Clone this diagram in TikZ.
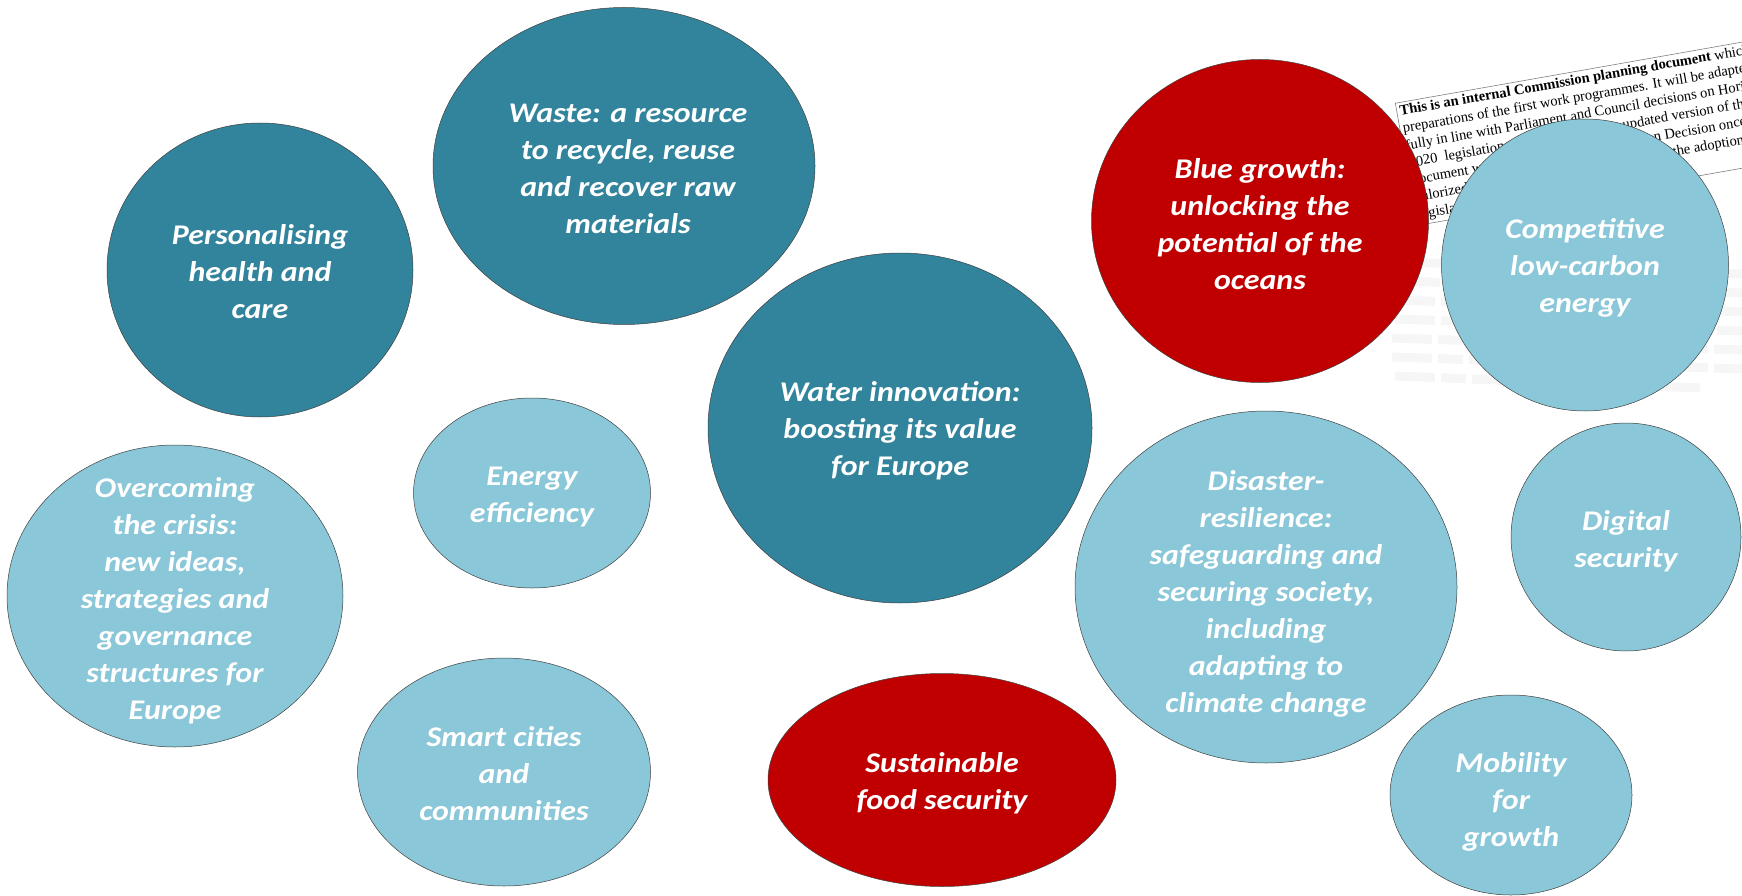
\documentclass[tikz,border=0pt]{standalone}
\usepackage{fontspec}
\setmainfont{Carlito}[FakeStretch=1.12]
\newfontfamily\docfont{Liberation Serif}
\usetikzlibrary{shapes.geometric}
\definecolor{teal}{HTML}{31849B}
\definecolor{lightblue}{HTML}{8AC7D8}
\definecolor{darkred}{HTML}{C00000}
\definecolor{rim}{HTML}{404040}
\tikzset{
  bubble/.style={ellipse, draw=rim, line width=0.5pt, inner sep=0pt},
  tealbub/.style={bubble, fill=teal},
  lightbub/.style={bubble, fill=lightblue},
  redbub/.style={bubble, fill=darkred},
  label/.style={align=center, text=white, inner sep=0pt,
    font=\fontsize{28.5}{37}\selectfont\bfseries\itshape},
  docbox/.style={draw=gray, line width=0.6pt, fill=white, align=left,
    inner sep=3pt, font=\docfont\fontsize{14.5}{17.5}\selectfont},
  blur/.style={line width=9pt, draw=black, opacity=0.035}
}
\begin{document}
\begin{tikzpicture}[x=1pt,y=-1pt]
\useasboundingbox (0,0) rectangle (1742,896);
% background document fragment
\node[docbox, rotate=10, anchor=north west] (doc) at (1395,103) {%
\textbf{This is an internal Commission planning document} which has been used\\
preparations of the first work programmes. It will be adapted to be\\
fully in line with Parliament and Council decisions on Horizon 2020\\
2020\ \ legislation. Please note that an updated version of this\\
document will be adopted as a Commission Decision once\\
valorized by the legislators before launching the adoption of the\\
legislation};
\coordinate (bl) at (1400,262);
\foreach \i/\a/\b in {0/1405/1742,1/1400/1742,2/1395/1742,3/1395/1742,4/1392/1742,5/1392/1742,6/1395/1700}{
  \draw[blur, dash pattern=on 40pt off 6pt on 25pt off 6pt on 60pt off 6pt on 30pt off 6pt]
    ([shift={(\a-1400,19*\i)}]bl) -- ([shift={(\b-1400,19*\i+12)}]bl);
}
% bubbles
\node[tealbub, minimum width=306pt, minimum height=294pt] (pers) at (260,270) {};
\node[label, yshift=-2pt] (perst) at (pers) {Personalising\\health and\\care};

\node[tealbub, minimum width=382pt, minimum height=317pt] (waste) at (624,166) {};
\node[label, xshift=4pt, yshift=-3pt] (wastet) at (waste) {Waste: a resource\\to recycle, reuse\\and recover raw\\materials};

\node[tealbub, minimum width=384pt, minimum height=350pt] (water) at (900,428) {};
\node[label, yshift=-3pt] (watert) at (water) {Water innovation:\\boosting its value\\for Europe};

\node[redbub, minimum width=337pt, minimum height=323pt] (blue) at (1260,221) {};
\node[label, yshift=-3pt] (bluet) at (blue) {Blue growth:\\unlocking the\\potential of the\\oceans};

\node[lightbub, minimum width=287pt, minimum height=292pt] (comp) at (1585,265) {};
\node[label, yshift=-3pt] (compt) at (comp) {Competitive\\low-carbon\\energy};

\node[lightbub, minimum width=237pt, minimum height=190pt] (ener) at (532,493) {};
\node[label, yshift=-4pt] (enert) at (ener) {Energy\\efficiency};

\node[lightbub, minimum width=336pt, minimum height=302pt] (over) at (175,596) {};
\node[label, yshift=-5pt] (overt) at (over) {Overcoming\\the crisis:\\new ideas,\\strategies and\\governance\\structures for\\Europe};

\node[lightbub, minimum width=293pt, minimum height=228pt] (smart) at (504,772) {};
\node[label, yshift=-2pt] (smartt) at (smart) {Smart cities\\and\\communities};

\node[redbub, minimum width=348pt, minimum height=213pt] (food) at (942,780) {};
\node[label, yshift=-3pt] (foodt) at (food) {Sustainable\\food security};

\node[lightbub, minimum width=382pt, minimum height=352pt] (dis) at (1266,587) {};
\node[label, yshift=-7pt] (dist) at (dis) {Disaster-\\resilience:\\safeguarding and\\securing society,\\including\\adapting to\\climate change};

\node[lightbub, minimum width=230pt, minimum height=228pt] (dig) at (1626,537) {};
\node[label, yshift=-4pt] (digt) at (dig) {Digital\\security};

\node[lightbub, minimum width=242pt, minimum height=200pt] (mob) at (1511,795) {};
\node[label, yshift=-7pt] (mobt) at (mob) {Mobility\\for\\growth};
\end{tikzpicture}
\end{document}
